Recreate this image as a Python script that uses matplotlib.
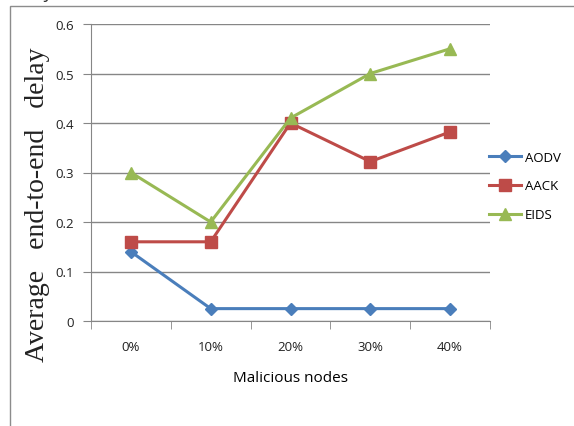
import numpy as np
import matplotlib.pyplot as plt
from matplotlib.patches import Rectangle

categories = ['0%', '10%', '20%', '30%', '40%']
aodv = [0.14, 0.025, 0.025, 0.025, 0.025]
aack = [0.16, 0.16, 0.40, 0.322, 0.382]
eids = [0.30, 0.20, 0.41, 0.50, 0.55]

W, H = 574, 427
fig = plt.figure(figsize=(W / 100, H / 100), dpi=100)

# outer chart frame, runs off the right and bottom edges
fig.patches.append(Rectangle((10 / W, 0 - 0.01), 1.1, 1 - 7 / H + 0.01,
                             transform=fig.transFigure, fill=False,
                             edgecolor='#8c8c8c', lw=1.0))
# tail of the caption above the chart
fig.text(8 / W, 1.0 + 7 / H, 'delay', fontsize=13, family='Open Sans',
         color='#333333', va='center')

ax = fig.add_axes([91 / W, 1 - 322 / H, 399 / W, 297 / H])
x = np.arange(len(categories))

ax.plot(x, aodv, color='#4A7EBB', lw=2.2, marker='D', ms=6, label='AODV')
ax.plot(x, aack, color='#BE4B48', lw=2.2, marker='s', ms=8.5, label='AACK')
ax.plot(x, eids, color='#98B954', lw=2.2, marker='^', ms=9, label='EIDS')

ax.set_xlim(-0.5, 4.5)
ax.set_ylim(0, 0.6)
ax.set_yticks(np.arange(0, 0.61, 0.1))
ax.set_yticklabels(['0', '0.1', '0.2', '0.3', '0.4', '0.5', '0.6'])
ax.set_xticks(x)
ax.set_xticklabels(categories)
ax.set_xticks(np.arange(-0.5, 4.6, 1), minor=True)
ax.tick_params(axis='x', which='major', length=0, pad=14)
ax.tick_params(axis='x', which='minor', length=6, color='#868686')
ax.tick_params(axis='y', length=6, color='#868686', pad=6)
for lab in ax.get_xticklabels() + ax.get_yticklabels():
    lab.set_family('Open Sans')
    lab.set_fontsize(9.5)
    lab.set_color('#222222')

ax.grid(axis='y', color='#868686', lw=1.0)
ax.set_axisbelow(True)
for side in ['top', 'right']:
    ax.spines[side].set_visible(False)
for side in ['left', 'bottom']:
    ax.spines[side].set_color('#868686')

ax.set_xlabel('Malicious nodes', family='Open Sans', fontsize=11, labelpad=12)
fig.text(38 / W, 1 - 205 / H, 'Average   end-to-end   delay', rotation=90,
         family='Liberation Serif', fontsize=20,
         ha='center', va='center', color='#222222')

ax.legend(loc='center left', bbox_to_anchor=(0.985, 0.455), frameon=False,
          prop={'family': 'Open Sans', 'size': 9.5}, handlelength=2.4,
          handletextpad=0.3, labelspacing=1.2, borderaxespad=0)

fig.savefig('out.png', dpi=100)
